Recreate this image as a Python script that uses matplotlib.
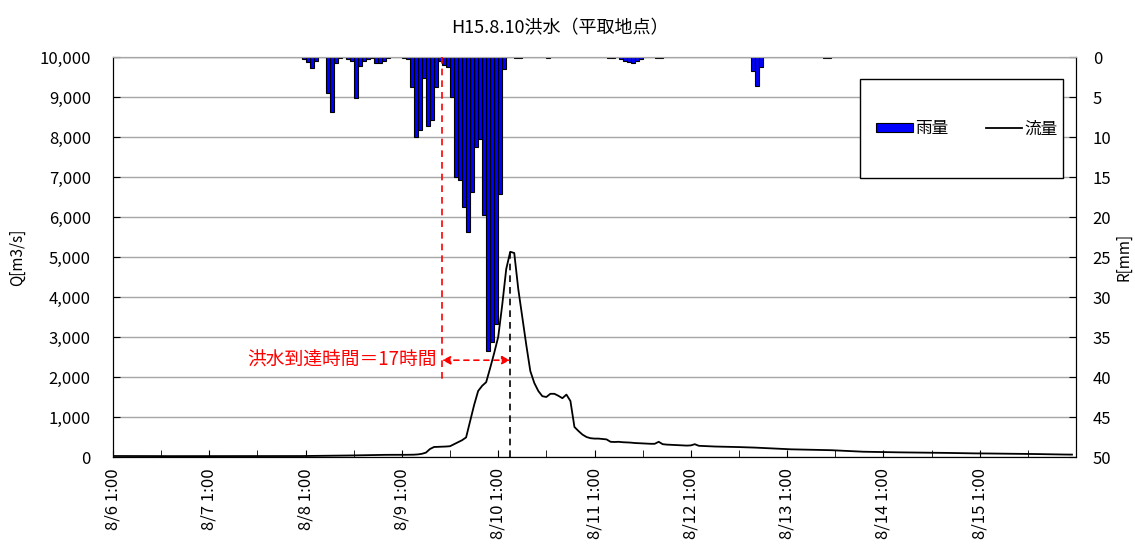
import matplotlib
matplotlib.use('Agg')
import matplotlib.pyplot as plt
from matplotlib.patches import Rectangle
from matplotlib.lines import Line2D
from matplotlib.ticker import FuncFormatter, MultipleLocator
import numpy as np

plt.rcParams['font.family'] = ['Noto Sans CJK JP', 'DejaVu Sans']

title = 'H15.8.10洪水（平取地点）'
day_labels = ['8/6 1:00', '8/7 1:00', '8/8 1:00', '8/9 1:00', '8/10 1:00',
              '8/11 1:00', '8/12 1:00', '8/13 1:00', '8/14 1:00', '8/15 1:00']

# hourly discharge Q [m3/s], one row per day (from 8/6 1:00)
flow_q = [
    25, 25, 25, 24, 24, 24, 24, 23, 23, 23, 23, 23, 22, 22, 22, 22, 22, 22, 21, 21, 21, 21, 21, 21,
    21, 21, 20, 20, 20, 20, 20, 20, 20, 20, 20, 20, 20, 20, 20, 21, 21, 21, 22, 22, 22, 23, 23, 24,
    25, 26, 27, 28, 30, 31, 32, 33, 34, 35, 36, 38, 40, 42, 44, 46, 48, 50, 52, 53, 54, 55, 56, 55,
    54, 55, 56, 58, 65, 80, 110, 200, 250, 255, 258, 262, 270, 320, 370, 420, 490, 900, 1300, 1650, 1780, 1870, 2225, 2600,
    3000, 3800, 4700, 5130, 5100, 4200, 3500, 2800, 2150, 1850, 1650, 1520, 1500, 1580, 1580, 1530, 1470, 1560, 1400, 750, 650, 560, 500, 470,
    460, 460, 450, 440, 380, 375, 380, 370, 365, 360, 350, 345, 340, 335, 330, 330, 380, 320, 310, 305, 300, 295, 290, 285,
    290, 320, 280, 275, 270, 265, 262, 260, 258, 255, 252, 250, 248, 245, 240, 238, 235, 230, 225, 220, 215, 210, 205, 200,
    195, 192, 190, 188, 185, 182, 180, 180, 178, 175, 175, 170, 165, 160, 155, 150, 145, 140, 135, 132, 130, 128, 125, 122,
    120, 120, 118, 117, 116, 115, 115, 114, 113, 112, 111, 110, 108, 106, 105, 104, 102, 100, 98, 96, 95, 94, 92, 90,
    90, 89, 88, 87, 86, 85, 85, 84, 83, 82, 80, 78, 76, 75, 74, 72, 70, 68, 66, 65, 64, 62, 61, 60,
]

# hourly rainfall R [mm], one row per day (from 8/6 1:00)
rain_r = [
    0, 0, 0, 0, 0, 0, 0, 0, 0, 0, 0, 0, 0, 0, 0, 0, 0, 0, 0, 0, 0, 0, 0, 0,
    0, 0, 0, 0, 0, 0, 0, 0, 0, 0, 0, 0, 0, 0, 0, 0, 0, 0, 0, 0, 0, 0, 0, 0.25,
    0.6, 1.4, 0.5, 0, 0, 4.5, 6.9, 0.75, 0.1, 0, 0.25, 0.5, 5.1, 1.1, 0.5, 0.25, 0.1, 0.75, 0.75, 0.5, 0.1, 0, 0, 0,
    0.1, 0.25, 3.7, 10, 9.1, 2.6, 8.6, 7.9, 3.8, 0.5, 1.0, 1.2, 5, 15, 15.4, 18.7, 21.9, 16.9, 11.3, 10.25, 19.8, 36.75, 35.6, 33.4,
    17.1, 1.5, 0, 0, 0.1, 0.1, 0, 0, 0, 0, 0, 0, 0.1, 0, 0, 0, 0, 0, 0, 0, 0, 0, 0, 0,
    0, 0, 0, 0.1, 0.1, 0, 0.25, 0.5, 0.6, 0.8, 0.45, 0.3, 0, 0, 0, 0.1, 0.1, 0, 0, 0, 0, 0, 0, 0,
    0, 0, 0, 0, 0, 0, 0, 0, 0, 0, 0, 0, 0, 0, 0, 1.7, 3.6, 1.3, 0, 0, 0, 0, 0, 0,
    0, 0, 0, 0, 0, 0, 0, 0, 0, 0.1, 0.1, 0, 0, 0, 0, 0, 0, 0, 0, 0, 0, 0, 0, 0,
    0, 0, 0, 0, 0, 0, 0, 0, 0, 0, 0, 0, 0, 0, 0, 0, 0, 0, 0, 0, 0, 0, 0, 0,
    0, 0, 0, 0, 0, 0, 0, 0, 0, 0, 0, 0, 0, 0, 0, 0, 0, 0, 0, 0, 0, 0, 0, 0,
]

rain_mark_hour = 82      # red dashed line (rain centre)
hours = np.arange(len(flow_q))
peak_hour = int(np.argmax(flow_q))

fig = plt.figure(figsize=(11.35, 5.49), dpi=100)
ax = fig.add_axes([113 / 1135, 92 / 549, 963 / 1135, 400 / 549])
ax2 = ax.twinx()
ax.set_zorder(2)
ax2.set_zorder(1)
ax.patch.set_visible(False)
ax2.patch.set_visible(True)
ax2.patch.set_facecolor('white')

# rain bars on right axis (inverted)
ax2.bar(hours, rain_r, width=1, align='edge', color='#0000ff',
        edgecolor='black', linewidth=0.8, zorder=2)
ax2.set_ylim(50, 0)
ax2.yaxis.set_major_locator(MultipleLocator(5))
ax2.grid(axis='y', color='#a6a6a6', linewidth=1, zorder=0)
ax2.set_axisbelow(True)
ax2.set_ylabel('R[mm]', fontsize=11, va='center')
ax2.yaxis.set_label_coords(1.05, 0.5)

# discharge line
ax.plot(hours, flow_q, color='black', lw=1.3, zorder=3)
ax.set_xlim(0, 240)
ax.set_ylim(0, 10000)
ax.yaxis.set_major_locator(MultipleLocator(1000))
ax.yaxis.set_major_formatter(FuncFormatter(lambda v, p: f'{int(v):,}'))
ax.set_ylabel('Q[m3/s]', fontsize=11, va='center')
ax.yaxis.set_label_coords(-0.099, 0.5)

ax.set_xticks(np.arange(0, 240, 24))
ax.set_xticklabels(day_labels, rotation=90)
ax.set_xticks(np.arange(12, 240, 24), minor=True)

for a in (ax, ax2):
    a.tick_params(axis='both', which='both', direction='in', length=5,
                  labelsize=12, color='black')
ax.tick_params(axis='y', pad=16)
ax.tick_params(axis='x', pad=8)
ax2.tick_params(axis='y', pad=12)
ax2.tick_params(axis='x', bottom=False)

for a in (ax, ax2):
    a.spines['top'].set_color('#a6a6a6')
    a.spines['left'].set_color('black')
    a.spines['right'].set_color('black')
    a.spines['bottom'].set_color('black')

# flood travel time annotation
ax.plot([rain_mark_hour, rain_mark_hour], [10000, 1950], color='red',
        ls=(0, (4, 3)), lw=1.2, zorder=4)
ax.plot([peak_hour, peak_hour], [flow_q[peak_hour], 0], color='black',
        ls=(0, (4, 3)), lw=1.2, zorder=4)
ax.annotate('', xy=(peak_hour, 2420), xytext=(rain_mark_hour, 2420),
            arrowprops=dict(arrowstyle='<|-|>', color='red', lw=1.2,
                            ls=(0, (3, 3)), mutation_scale=12,
                            shrinkA=0, shrinkB=0), zorder=5)
ax.text(rain_mark_hour - 1.2, 2430, '洪水到達時間＝17時間', color='red',
        fontsize=13.5, ha='right', va='center', zorder=5)

# legend box
ax.add_patch(Rectangle((0.7757, 0.6975), 0.2108, 0.2475, transform=ax.transAxes,
                       facecolor='white', edgecolor='black', lw=1, zorder=6))
handles = [Rectangle((0, 0), 1, 1, facecolor='#0000ff', edgecolor='black', lw=0.8),
           Line2D([], [], color='black', lw=1.3)]
leg = ax.legend(handles, ['雨量', '流量'], ncol=2, frameon=False,
                loc='center', bbox_to_anchor=(0.887, 0.82), fontsize=12,
                handlelength=2.2, handleheight=0.5, handletextpad=0.15,
                columnspacing=2.2)
leg.set_zorder(7)

fig.suptitle(title, y=0.965, fontsize=13, x=560 / 1135)

fig.savefig('out.png', dpi=100)
